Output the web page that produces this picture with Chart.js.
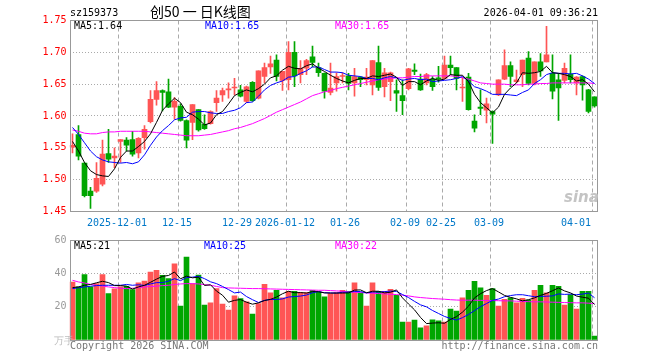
<!DOCTYPE html>
<html><head><meta charset="utf-8">
<script src="https://cdn.jsdelivr.net/npm/chart.js@4.4.1/dist/chart.umd.min.js"></script>
<style>
html,body{margin:0;padding:0;background:#fff;width:660px;height:360px;overflow:hidden;}
#wrap{position:relative;width:660px;height:360px;}
canvas{position:absolute;left:0;top:0;}
.t{position:absolute;font:10px "DejaVu Sans Mono",monospace;line-height:12px;white-space:pre;color:#000;}
</style></head><body>
<div id="wrap">
<canvas id="pc" width="660" height="360"></canvas>
<canvas id="vc" width="660" height="360"></canvas>
<div class="t" style="left:70px;top:7px">sz159373</div>
<div class="t" style="left:150px;top:3px;font:14px 'Noto Sans CJK SC',sans-serif;line-height:16px">创50 一 日K线图</div>
<div class="t" style="right:62px;top:7px">2026-04-01 09:36:21</div>
<div class="t" style="left:74px;top:20px">MA5:1.64</div>
<div class="t" style="left:205px;top:20px;color:#0000ff">MA10:1.65</div>
<div class="t" style="left:335px;top:20px;color:#ff00ff">MA30:1.65</div>
<div class="t" style="left:74px;top:240px">MA5:21</div>
<div class="t" style="left:204px;top:240px;color:#0000ff">MA10:25</div>
<div class="t" style="left:335px;top:240px;color:#ff00ff">MA30:22</div>
<div class="t" style="left:54px;top:335px;color:#bbb">万手</div>
<div class="t" style="left:70px;top:340px;color:#777">Copyright 2026 SINA.COM</div>
<div class="t" style="right:62px;top:340px;color:#777">http://finance.sina.com.cn</div>
<div class="t" style="left:564px;top:188px;font:italic bold 15px 'DejaVu Sans',sans-serif;line-height:18px;color:#c4c4c4">sina</div>
</div>
<script>
const dates = ['2025-11-19','2025-11-20','2025-11-21','2025-11-24','2025-11-25','2025-11-26','2025-11-27','2025-11-28',
'2025-12-01','2025-12-02','2025-12-03','2025-12-04','2025-12-05','2025-12-08','2025-12-09','2025-12-10','2025-12-11','2025-12-12',
'2025-12-15','2025-12-16','2025-12-17','2025-12-18','2025-12-19','2025-12-22','2025-12-23','2025-12-24','2025-12-25','2025-12-26',
'2025-12-29','2025-12-30','2025-12-31',
'2026-01-05','2026-01-06','2026-01-07','2026-01-08','2026-01-09','2026-01-12','2026-01-13','2026-01-14','2026-01-15','2026-01-16',
'2026-01-19','2026-01-20','2026-01-21','2026-01-22','2026-01-23','2026-01-26','2026-01-27','2026-01-28','2026-01-29','2026-01-30',
'2026-02-02','2026-02-03','2026-02-04','2026-02-05','2026-02-06','2026-02-09','2026-02-10','2026-02-11','2026-02-12','2026-02-13',
'2026-02-24','2026-02-25','2026-02-26','2026-02-27',
'2026-03-02','2026-03-03','2026-03-04','2026-03-05','2026-03-06','2026-03-09','2026-03-10','2026-03-11','2026-03-12','2026-03-13',
'2026-03-16','2026-03-17','2026-03-18','2026-03-19','2026-03-20','2026-03-23','2026-03-24','2026-03-25','2026-03-26','2026-03-27',
'2026-03-30','2026-03-31','2026-04-01'];

const tickDates = ['2025-12-01','2025-12-15','2025-12-29','2026-01-12','2026-01-26','2026-02-09','2026-02-25','2026-03-09','2026-04-01'];
const tickTexts = ['2025-12-01','12-15','12-29','2026-01-12','01-26','02-09','02-25','03-09','04-01     '];

const openP = [1.551,1.571,1.526,1.482,1.482,1.493,1.541,1.534,1.560,1.562,
1.563,1.542,1.566,1.591,1.626,1.640,1.638,1.614,1.615,1.593,
1.590,1.610,1.587,1.588,1.621,1.633,1.641,1.644,1.641,1.623,
1.653,1.628,1.662,1.677,1.688,1.656,1.657,1.700,1.665,1.675,
1.693,1.676,1.667,1.637,1.652,1.662,1.663,1.652,1.661,1.657,
1.649,1.684,1.646,1.654,1.640,1.632,1.643,1.672,1.658,1.652,
1.658,1.660,1.659,1.680,1.676,1.644,1.661,1.592,1.614,1.609,
1.607,1.633,1.658,1.679,1.654,1.665,1.691,1.651,1.685,1.685,
1.667,1.657,1.656,1.666,1.652,1.662,1.641,1.630];
const highP = [1.572,1.585,1.527,1.488,1.527,1.562,1.579,1.550,1.563,1.566,
1.576,1.566,1.585,1.640,1.654,1.641,1.658,1.629,1.619,1.594,
1.618,1.610,1.602,1.608,1.640,1.644,1.652,1.659,1.648,1.647,
1.654,1.671,1.683,1.694,1.696,1.670,1.717,1.717,1.687,1.689,
1.710,1.683,1.668,1.683,1.668,1.668,1.667,1.675,1.662,1.675,
1.687,1.710,1.675,1.669,1.657,1.657,1.675,1.682,1.666,1.667,
1.662,1.678,1.694,1.694,1.676,1.661,1.667,1.602,1.641,1.628,
1.608,1.657,1.704,1.685,1.672,1.688,1.701,1.685,1.698,1.741,
1.696,1.667,1.683,1.696,1.662,1.663,1.642,1.630];
const lowP = [1.542,1.531,1.473,1.455,1.480,1.490,1.527,1.519,1.527,1.545,
1.537,1.534,1.548,1.589,1.617,1.608,1.613,1.595,1.592,1.550,
1.563,1.576,1.579,1.587,1.607,1.623,1.628,1.633,1.630,1.621,
1.623,1.627,1.652,1.667,1.655,1.640,1.641,1.646,1.652,1.665,
1.677,1.662,1.628,1.633,1.639,1.652,1.641,1.631,1.646,1.649,
1.633,1.640,1.630,1.624,1.607,1.602,1.641,1.665,1.640,1.649,
1.640,1.653,1.658,1.665,1.641,1.623,1.609,1.575,1.602,1.589,
1.557,1.632,1.657,1.646,1.652,1.646,1.649,1.649,1.662,1.685,
1.627,1.593,1.652,1.652,1.633,1.625,1.605,1.614];
const closeP = [1.554,1.537,1.475,1.475,1.502,1.540,1.532,1.537,1.563,1.554,
1.540,1.565,1.579,1.626,1.640,1.637,1.614,1.623,1.593,1.562,
1.618,1.578,1.580,1.607,1.628,1.640,1.642,1.645,1.631,1.646,
1.624,1.671,1.676,1.682,1.662,1.670,1.700,1.663,1.675,1.687,
1.684,1.668,1.639,1.644,1.662,1.663,1.651,1.662,1.657,1.661,
1.687,1.645,1.668,1.668,1.636,1.624,1.674,1.670,1.641,1.665,
1.646,1.658,1.680,1.676,1.659,1.645,1.610,1.581,1.612,1.619,
1.603,1.657,1.679,1.662,1.657,1.688,1.651,1.685,1.671,1.696,
1.639,1.644,1.675,1.657,1.661,1.649,1.607,1.616];

const ma5P = [1.560,1.545,1.527,1.514,1.508,1.506,1.505,1.517,1.535,1.545,
1.545,1.552,1.560,1.572,1.590,1.609,1.619,1.628,1.621,1.606,
1.602,1.595,1.586,1.589,1.602,1.607,1.619,1.632,1.637,1.641,
1.638,1.643,1.650,1.660,1.663,1.672,1.678,1.675,1.674,1.679,
1.682,1.675,1.670,1.664,1.659,1.655,1.652,1.656,1.659,1.659,
1.663,1.662,1.664,1.666,1.661,1.648,1.654,1.654,1.649,1.655,
1.659,1.656,1.658,1.665,1.664,1.664,1.654,1.634,1.621,1.613,
1.605,1.614,1.634,1.644,1.652,1.668,1.667,1.668,1.670,1.678,
1.668,1.667,1.665,1.662,1.655,1.657,1.650,1.638];
const ma10P = [1.582,1.571,1.558,1.545,1.536,1.531,1.528,1.527,1.526,1.527,
1.525,1.528,1.539,1.554,1.567,1.577,1.585,1.594,1.597,1.598,
1.606,1.607,1.607,1.605,1.604,1.604,1.607,1.609,1.613,1.621,
1.622,1.631,1.641,1.648,1.652,1.655,1.661,1.662,1.667,1.671,
1.677,1.677,1.673,1.669,1.669,1.668,1.664,1.663,1.662,1.659,
1.659,1.657,1.660,1.662,1.660,1.656,1.658,1.659,1.657,1.658,
1.654,1.655,1.656,1.657,1.659,1.662,1.655,1.646,1.643,1.639,
1.634,1.634,1.634,1.633,1.632,1.637,1.641,1.651,1.657,1.665,
1.668,1.667,1.667,1.666,1.667,1.663,1.658,1.651];
const ma30P = [1.578,1.576,1.573,1.572,1.572,1.574,1.575,1.575,1.576,1.576,
1.576,1.576,1.576,1.575,1.574,1.573,1.572,1.571,1.570,1.569,
1.569,1.569,1.570,1.571,1.573,1.575,1.577,1.580,1.582,1.585,
1.588,1.592,1.596,1.601,1.606,1.610,1.614,1.618,1.622,1.627,
1.632,1.635,1.638,1.640,1.643,1.645,1.647,1.649,1.651,1.653,
1.655,1.657,1.658,1.659,1.660,1.660,1.661,1.662,1.662,1.663,
1.663,1.663,1.663,1.663,1.662,1.660,1.658,1.655,1.652,1.651,
1.650,1.650,1.650,1.649,1.649,1.649,1.650,1.650,1.651,1.651,
1.652,1.652,1.652,1.652,1.652,1.652,1.652,1.651];

const volume = [35,32,39.4,32,34,39.4,28,30.8,32,32.4,
30.4,34.4,35.6,41,42,39,37,46,20.4,50,
34,39.2,21,22.4,31,21.6,18,26.6,25,23,
15.6,22,33.6,28.4,30,25.4,29.4,29.4,28.6,28.6,
30,29,26,28,28.6,30,29.4,34.4,28.4,20.4,
34.4,29.4,29.4,30.6,27,10.8,10.8,12,7.4,8.6,
12.2,11.6,10.8,18.6,17.4,25.4,30,35.4,31.4,27,
31,20.4,24.6,25.4,22.4,25.2,24,30,33,28.4,
33,32.4,21,27.4,18.6,29.4,29.4,2.4];
const ma5V = [31.6,32,33,33.5,34.5,35.4,34.6,32.8,32.8,32.5,
30.7,32,33,34.8,36.7,38.4,38.9,41,36.9,38.5,
37.5,37.9,32.9,33.3,29.5,27,22.8,23.9,24.4,22.8,
21.6,22.4,23.8,24.5,25.9,27.9,29.4,28.5,28.6,28.3,
29.2,29.1,28.4,28.3,28.3,28.3,28.4,30.1,30.2,28.5,
29.4,29.4,28.4,28.8,30.2,25.4,21.7,18.2,13.6,9.9,
10.2,10.4,10.1,12.4,14.1,16.8,20.4,25.4,27.9,29.8,
31,29,26.9,25.7,24.8,23.6,24.3,25.4,26.9,28.1,
29.7,31.4,29.6,28.4,26.5,25.8,25.2,21.4];
const ma10V = [31,31.5,32,32.4,32.8,33,33,33,33,33.5,
33,33.3,32.9,33.8,34.6,34.6,35.5,37,35.8,37.6,
37.9,38.4,37,35.1,34,32.3,30.4,28.4,28.9,26.2,
24.3,22.6,23.9,24.5,24.4,24.8,25.9,26.2,26.5,27.1,
28.5,29.2,28.5,28.4,28.3,28.8,28.8,29.3,29.2,28.4,
28.9,28.9,29.2,29.5,29.3,27.4,25.6,23.3,21.2,20,
17.8,16,14.2,13,12,13.5,15.4,17.7,20.1,22,
23.9,24.7,26.1,26.8,27.3,27.3,26.7,26.1,26.3,26.4,
26.6,27.8,27.5,27.7,27.3,27.7,28.3,25.5];
const ma30V = [36,35,34.4,33.5,33,32.5,32,31.6,31.2,31,
31.2,31.6,32,32.2,32.5,32.8,33,33.5,33.8,34,
34,33.8,33.4,33,32.3,31.6,31.4,31.3,31.2,31.1,
31,31,30.9,30.8,30.7,30.6,30.5,30.4,30.3,30.2,
30.1,30,30,29.8,29.6,29.4,29,28.8,28.6,28.4,
28.2,28,27.8,27.6,27.4,27,26.6,26,25.6,25.3,
25,24.8,24.6,24.3,24.1,24,24,24,23.9,23.9,
23.8,23.7,23.6,23.6,23.4,23.3,23.1,23,23,22.9,
22.8,22.7,22.6,22.5,22.4,22.4,22.2,22];

const priceTicks = {min:1.45, max:1.75, step:0.05};
const volTicks = {min:0, max:60, step:20};

const UP = '#ff5555', DOWN = '#00a600';
const isUp = closeP.map((c,i)=> c >= openP[i]);
const candleColor = isUp.map(u => u ? UP : DOWN);
const markIdx = tickDates.map(d => dates.indexOf(d));
const MONO = '"DejaVu Sans Mono", monospace';

const framePlugin = {
  id: 'frame',
  beforeDatasetsDraw(chart) {
    const {ctx, chartArea: a, scales: {x}} = chart;
    ctx.save();
    ctx.strokeStyle = '#aaaaaa'; ctx.lineWidth = 1; ctx.setLineDash([4, 3]);
    markIdx.forEach(i => {
      const px = Math.round(x.getPixelForValue(i) - 2.5) + 0.5;
      ctx.beginPath(); ctx.moveTo(px, a.top); ctx.lineTo(px, a.bottom); ctx.stroke();
    });
    ctx.restore();
  },
  afterDraw(chart) {
    const {ctx, chartArea: a} = chart;
    ctx.save();
    ctx.strokeStyle = '#999999'; ctx.lineWidth = 1; ctx.setLineDash([]);
    const l = Math.ceil(a.left) + 0.5, r = Math.floor(a.right) + 0.5;
    const t = Math.floor(a.top) + 0.5, b = Math.floor(a.bottom) + 0.5;
    ctx.strokeRect(l, t, r - l, b - t);
    ctx.restore();
  }
};

function yGrid(minV, maxV) {
  return {
    color: c => (c.tick && (Math.abs(c.tick.value - minV) < 1e-6 || Math.abs(c.tick.value - maxV) < 1e-6)) ? 'rgba(0,0,0,0)' : '#aaaaaa',
    drawTicks: false, lineWidth: 1
  };
}

function lineDs(data, color) {
  return {type: 'line', data, borderColor: color, borderWidth: 1, pointRadius: 0, tension: 0, fill: false, order: 0};
}

new Chart(document.getElementById('pc'), {
  type: 'bar',
  data: {
    labels: dates,
    datasets: [
      lineDs(ma5P, '#000000'), lineDs(ma10P, '#0000ff'), lineDs(ma30P, '#ff00ff'),
      {data: dates.map((d,i)=>[lowP[i], highP[i]]), backgroundColor: candleColor, barThickness: 1, grouped: false, order: 2},
      {data: dates.map((d,i)=>[Math.min(openP[i],closeP[i]), Math.max(openP[i],closeP[i])]), backgroundColor: candleColor, barThickness: 5, minBarLength: 1, grouped: false, order: 1}
    ]
  },
  options: {
    responsive: false, animation: false, devicePixelRatio: 1,
    layout: {padding: {top: 20.5, right: 62.5, left: 0, bottom: 0}},
    plugins: {legend: {display: false}, tooltip: {enabled: false}},
    scales: {
      x: {
        offset: true,
        grid: {display: false, drawTicks: false},
        border: {display: false},
        ticks: {autoSkip: false, maxRotation: 0, minRotation: 0, padding: 6, labelOffset: -3.5,
          color: '#0078c8', font: {family: MONO, size: 10},
          callback: (v, i) => { const k = tickDates.indexOf(dates[i]); return k >= 0 ? tickTexts[k] : ''; }},
        afterFit: s => { s.height = 148.5; }
      },
      y: {
        min: priceTicks.min, max: priceTicks.max,
        grid: yGrid(priceTicks.min, priceTicks.max),
        border: {display: false, dash: [1, 2]},
        ticks: {stepSize: priceTicks.step, padding: 3, color: '#ff0000', font: {family: MONO, size: 10},
          callback: v => Number(v).toFixed(2)},
        afterFit: s => { s.width = 69.5; }
      }
    }
  },
  plugins: [framePlugin]
});

new Chart(document.getElementById('vc'), {
  type: 'bar',
  data: {
    labels: dates,
    datasets: [
      lineDs(ma5V, '#000000'), lineDs(ma10V, '#0000ff'), lineDs(ma30V, '#ff00ff'),
      {data: volume, backgroundColor: candleColor, barThickness: 5, grouped: false, order: 1}
    ]
  },
  options: {
    responsive: false, animation: false, devicePixelRatio: 1,
    layout: {padding: {top: 240.5, right: 62.5, left: 0, bottom: 0}},
    plugins: {legend: {display: false}, tooltip: {enabled: false}},
    scales: {
      x: {
        offset: true,
        grid: {display: false, drawTicks: false},
        border: {display: false},
        ticks: {display: false},
        afterFit: s => { s.height = 20; }
      },
      y: {
        min: volTicks.min, max: volTicks.max,
        grid: yGrid(volTicks.min, volTicks.max),
        border: {display: false, dash: [1, 2]},
        ticks: {stepSize: volTicks.step, padding: 3, color: '#999999', font: {family: MONO, size: 10},
          callback: v => v === 0 ? '' : String(v)},
        afterFit: s => { s.width = 69.5; }
      }
    }
  },
  plugins: [framePlugin]
});
</script>
</body></html>
